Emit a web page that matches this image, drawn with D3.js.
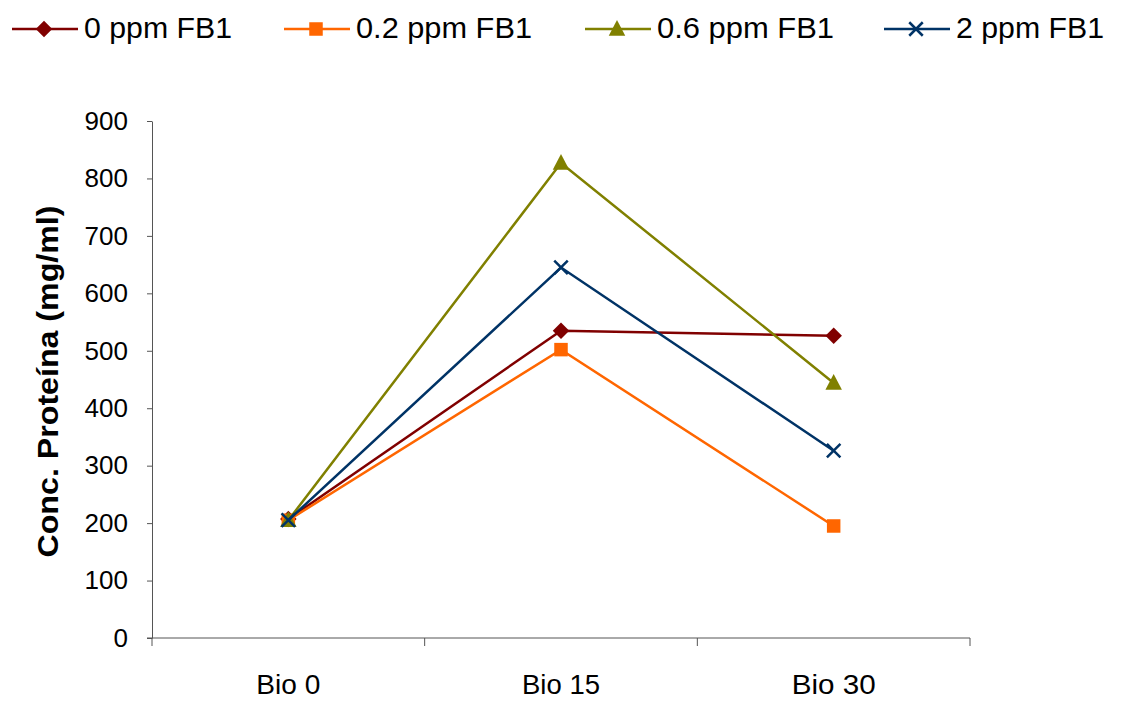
<!DOCTYPE html>
<html>
<head>
<meta charset="utf-8">
<script src="https://cdn.jsdelivr.net/npm/d3@7"></script>
<style>
  html, body { margin: 0; padding: 0; background: #fff; }
  svg { display: block; font-family: Arial, "Liberation Sans", sans-serif; }
</style>
</head>
<body>
<svg id="chart" width="1121" height="702"></svg>
<script>
// Sampling stages on the x axis
const categories = ["Bio 0", "Bio 15", "Bio 30"];

// Protein concentration (mg/ml) per FB1 dose
const seriesNames = ["0 ppm FB1", "0.2 ppm FB1", "0.6 ppm FB1", "2 ppm FB1"];
const values0ppm  = [207, 535, 526];
const values02ppm = [205, 502, 195];
const values06ppm = [205, 827, 444];
const values2ppm  = [205, 645, 326];

const yTicks = [0, 100, 200, 300, 400, 500, 600, 700, 800, 900];

const colors  = ["#800000", "#FF6600", "#808000", "#003366"];
const symbols = ["diamond", "square", "triangle", "cross"];

const series = seriesNames.map((name, i) => ({
  name,
  values: [values0ppm, values02ppm, values06ppm, values2ppm][i],
  color: colors[i],
  symbol: symbols[i]
}));

const svg = d3.select("#chart");
const plot = { left: 152, right: 970, top: 121, bottom: 638 };

const x = d3.scaleBand().domain(categories).range([plot.left, plot.right]);
const y = d3.scaleLinear().domain([0, 900]).range([plot.bottom, plot.top]);

// Y axis
const yAxis = svg.append("g")
  .attr("transform", `translate(${plot.left},0)`)
  .call(d3.axisLeft(y).tickValues(yTicks).tickSize(5).tickPadding(19).tickSizeOuter(0));
yAxis.select(".domain").attr("stroke", "#555").attr("stroke-width", 1);
yAxis.selectAll(".tick line").attr("stroke", "#555");
yAxis.selectAll(".tick text")
  .attr("font-size", 26).attr("fill", "#000")
  .attr("font-family", "Arial, 'Liberation Sans', sans-serif");

// X axis with boundary ticks between categories
const xAxisG = svg.append("g").attr("transform", `translate(0,${plot.bottom})`);
xAxisG.append("line")
  .attr("x1", plot.left - 5).attr("x2", plot.right)
  .attr("stroke", "#555").attr("stroke-width", 1);
const boundaries = categories.map(c => x(c)).concat([x(categories[categories.length - 1]) + x.bandwidth()]);
xAxisG.selectAll("line.bt").data(boundaries).enter().append("line")
  .attr("class", "bt")
  .attr("x1", d => d).attr("x2", d => d)
  .attr("y1", 0).attr("y2", 8)
  .attr("stroke", "#555");
xAxisG.selectAll("text").data(categories).enter().append("text")
  .attr("x", d => x(d) + x.bandwidth() / 2)
  .attr("y", 56)
  .attr("text-anchor", "middle")
  .attr("font-size", 28)
  .attr("fill", "#000")
  .attr("textLength", (d, i) => [64, 78, 84][i])
  .attr("lengthAdjust", "spacingAndGlyphs")
  .text(d => d);

// Y axis title
svg.append("text")
  .attr("transform", `translate(58,${(plot.top + plot.bottom) / 2 + 2}) rotate(-90)`)
  .attr("text-anchor", "middle")
  .attr("font-size", 29)
  .attr("font-weight", "bold")
  .attr("fill", "#000")
  .attr("textLength", 352)
  .attr("lengthAdjust", "spacingAndGlyphs")
  .text("Conc. Proteína (mg/ml)");

// Marker drawing helper
function drawMarker(g, type, color, cx, cy, s) {
  if (type === "diamond") {
    g.append("path")
      .attr("d", `M${cx},${cy - s * 0.55} L${cx + s * 0.55},${cy} L${cx},${cy + s * 0.55} L${cx - s * 0.55},${cy} Z`)
      .attr("fill", color);
  } else if (type === "square") {
    g.append("rect")
      .attr("x", cx - s * 0.45).attr("y", cy - s * 0.45)
      .attr("width", s * 0.9).attr("height", s * 0.9)
      .attr("fill", color);
  } else if (type === "triangle") {
    g.append("path")
      .attr("d", `M${cx},${cy - s * 0.6} L${cx + s * 0.55},${cy + s * 0.45} L${cx - s * 0.55},${cy + s * 0.45} Z`)
      .attr("fill", color);
  } else if (type === "cross") {
    const h = s * 0.45;
    g.append("path")
      .attr("d", `M${cx - h},${cy - h} L${cx + h},${cy + h} M${cx - h},${cy + h} L${cx + h},${cy - h}`)
      .attr("stroke", color).attr("stroke-width", 2.5).attr("fill", "none");
  }
}

const line = d3.line()
  .x((d, i) => x(categories[i]) + x.bandwidth() / 2)
  .y(d => y(d));

// Series lines then markers
series.forEach(s => {
  const g = svg.append("g");
  g.append("path")
    .attr("d", line(s.values))
    .attr("fill", "none")
    .attr("stroke", s.color)
    .attr("stroke-width", 2.5);
  s.values.forEach((v, i) => {
    drawMarker(g, s.symbol, s.color, x(categories[i]) + x.bandwidth() / 2, y(v), 15);
  });
});

// Legend
const legendX = [12, 284, 585, 884];
const legendTextLen = [148, 176, 177, 148];
series.forEach((s, i) => {
  const g = svg.append("g");
  const x0 = legendX[i];
  g.append("line")
    .attr("x1", x0).attr("x2", x0 + 66)
    .attr("y1", 29).attr("y2", 29)
    .attr("stroke", s.color).attr("stroke-width", 2.5);
  drawMarker(g, s.symbol, s.color, x0 + 32, 29, 15);
  g.append("text")
    .attr("x", x0 + 72)
    .attr("y", 38)
    .attr("font-size", 29)
    .attr("fill", "#000")
    .attr("textLength", legendTextLen[i])
    .attr("lengthAdjust", "spacingAndGlyphs")
    .text(s.name);
});
</script>
</body>
</html>
